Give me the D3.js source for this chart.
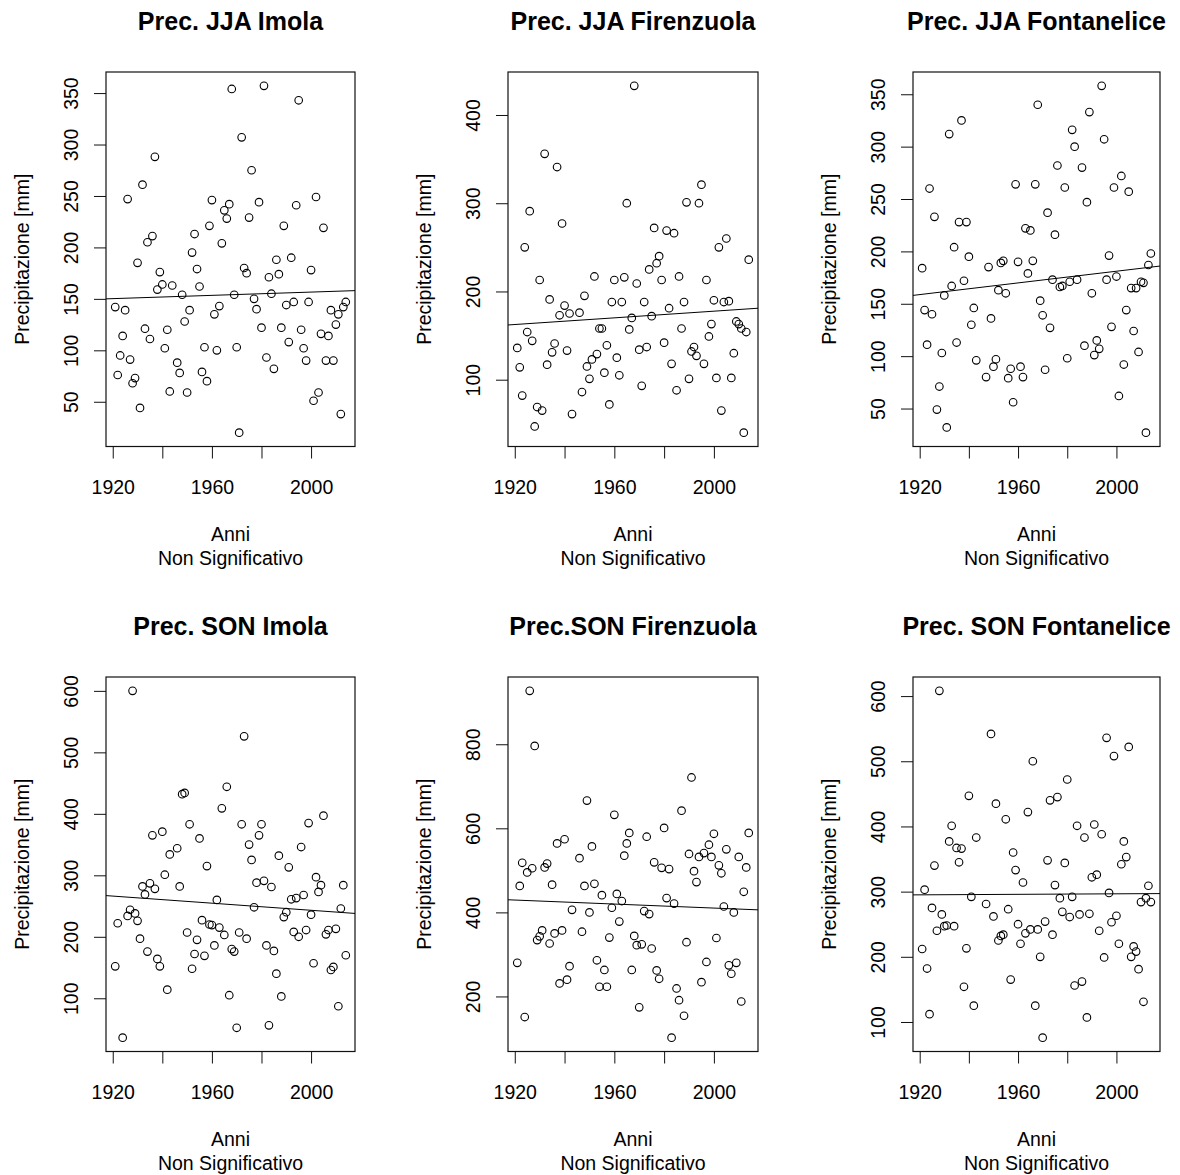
<!DOCTYPE html>
<html>
<head>
<meta charset="utf-8">
<script src="https://cdn.jsdelivr.net/npm/d3@7"></script>
<style>
  body { margin: 0; background: #fff; }
  text { font-family: "Liberation Sans", Arial, sans-serif; fill: #000; }
</style>
</head>
<body>
<script>
// JJA = summer (Jun-Jul-Aug), SON = autumn (Sep-Oct-Nov), precipitation in mm
const jjaImolaYears = [1921,1922,1923,1924,1925,1926,1927,1928,1929,1930,1931,1932,1933,1934,1935,1936,1937,1938,1939,1940,1941,1942,1943,1944,
  1946,1947,1948,1949,1950,1951,1952,1953,1954,1955,1956,1957,1958,1959,1960,1961,1962,1963,1964,1965,1966,1967,1968,1969,1970,1971,1972,1973,1974,1975,
  1976,1977,1978,1979,1980,1981,1982,1983,1984,1985,1986,1987,1988,1989,1990,1991,1992,1993,1994,1995,1996,1997,1998,1999,2000,2001,2002,2003,2004,2005,
  2006,2007,2008,2009,2010,2011,2012,2013,2014];
const jjaImolaPrec = [142,76,95,114,139,247,91,68,73,185,44,261,121,205,111,211,288,159,176,164,102,120,60,163,
  88,78,154,128,59,139,195,213,179,162,79,103,70,221,246,135,100,143,204,236,228,242,354,154,103,20,307,180,175,229,
  275,150,140,244,122,357,93,171,155,82,188,174,122,221,144,108,190,147,241,343,120,102,90,147,178,51,249,59,116,219,
  90,114,139,90,125,135,38,142,147];
const jjaImolaTrend = [150, 158];

const jjaFirenzuolaYears = [1921,1922,1923,1924,1925,1926,1927,1928,1929,1930,1931,1932,1933,1934,1935,1936,1937,1938,1939,1940,1941,1942,1943,
  1946,1947,1948,1949,1950,1951,1952,1953,1954,1955,1956,1957,1958,1959,1960,1961,1962,1963,1964,1965,1966,1967,1968,1969,1970,1971,1972,1973,1974,1975,
  1976,1977,1978,1979,1980,1981,1982,1983,1984,1985,1986,1987,1988,1989,1990,1991,1992,1993,1994,1995,1996,1997,1998,1999,2000,2001,2002,2003,2004,2005,
  2006,2007,2008,2009,2010,2011,2012,2013,2014];
const jjaFirenzuolaPrec = [136,114,82,250,154,291,144,47,69,213,65,356,117,191,131,141,341,173,277,184,133,175,61,
  176,86,195,115,101,123,217,129,158,158,108,139,72,188,213,125,105,188,216,300,157,170,433,209,134,93,188,137,225,172,
  272,232,240,213,142,269,181,118,266,88,217,158,188,301,101,132,137,127,300,321,118,213,149,163,190,102,250,65,188,260,
  189,102,130,166,163,158,40,154,236];
const jjaFirenzuolaTrend = [162, 181];

const jjaFontanYears = [1921,1922,1923,1924,1925,1926,1927,1928,1929,1930,1931,1932,1933,1934,1935,1936,1937,1938,1939,1940,1941,1942,1943,
  1947,1948,1949,1950,1951,1952,1953,1954,1955,1956,1957,1958,1959,1960,1961,1962,1963,1964,1965,1966,1967,1968,1969,1970,1971,1972,1973,1974,1975,
  1976,1977,1978,1979,1980,1981,1982,1983,1984,1986,1987,1988,1989,1990,1991,1992,1993,1994,1995,1996,1997,1998,1999,2000,2001,2002,2003,2004,2005,
  2006,2007,2008,2009,2010,2011,2012,2013,2014];
const jjaFontanPrec = [184,144,111,260,140,233,49,71,103,158,32,312,167,204,113,228,325,172,228,195,130,146,96,
  80,185,136,90,97,163,189,191,160,79,88,56,264,190,90,80,222,179,220,191,264,340,153,139,87,237,127,173,216,
  282,166,167,261,98,171,316,300,173,280,110,247,333,160,101,115,107,358,307,173,196,128,261,176,62,272,92,144,257,
  165,124,165,104,171,170,27,187,198];
const jjaFontanTrend = [158, 186];

const sonImolaYears = [1921,1922,1924,1926,1927,1928,1929,1930,1931,1932,1933,1934,1935,1936,1937,1938,1939,1940,1941,1942,1943,
  1946,1947,1948,1949,1950,1951,1952,1953,1954,1955,1956,1957,1958,1959,1960,1961,1962,1963,1964,1965,1966,1967,1968,1969,1970,1971,1972,1973,1974,1975,
  1976,1977,1978,1979,1980,1981,1982,1983,1984,1985,1986,1987,1988,1989,1990,1991,1992,1993,1994,1995,1996,1997,1998,1999,2000,2001,2002,2003,2004,2005,
  2006,2007,2008,2009,2010,2011,2012,2013,2014];
const sonImolaPrec = [152,222,36,234,244,600,238,226,197,282,269,176,287,365,278,164,152,371,301,114,334,
  344,282,432,434,207,383,148,172,195,360,227,169,315,220,219,186,260,215,409,203,444,105,180,176,52,207,383,526,197,350,
  325,248,288,365,383,291,186,56,281,177,140,332,103,232,240,313,261,208,263,200,346,268,211,385,236,157,297,273,284,397,
  204,211,146,151,213,87,246,284,170];
const sonImolaTrend = [267, 238];

const sonFirenzuolaYears = jjaFirenzuolaYears;
const sonFirenzuolaPrec = [280,463,518,151,495,927,505,796,334,343,357,507,516,326,466,350,564,231,357,574,240,272,406,
  529,354,463,666,400,557,468,286,223,441,263,223,340,411,632,444,378,427,535,564,589,263,344,322,174,324,403,580,396,314,
  519,262,242,506,601,434,503,102,421,219,191,642,154,329,539,721,498,472,532,234,541,282,561,532,587,339,512,493,414,550,
  274,254,400,280,532,188,449,507,589];
const sonFirenzuolaTrend = [430, 406];

const sonFontanYears = [1921,1922,1923,1924,1925,1926,1927,1928,1929,1930,1931,1932,1933,1934,1935,1936,1937,1938,1939,1940,1941,1942,1943,
  1947,1949,1950,1951,1952,1953,1954,1955,1956,1957,1958,1959,1960,1961,1962,1963,1964,1965,1966,1967,1968,1969,1970,1971,1972,1973,1974,1975,
  1976,1977,1978,1979,1980,1981,1982,1983,1984,1985,1986,1987,1988,1989,1990,1991,1992,1993,1994,1995,1996,1997,1998,1999,2000,2001,2002,2003,2004,2005,
  2006,2007,2008,2009,2010,2011,2012,2013,2014];
const sonFontanPrec = [212,303,182,112,275,340,240,608,265,247,248,377,401,247,367,345,366,154,213,447,292,125,383,
  281,542,262,435,225,232,234,411,273,165,360,333,250,220,314,236,422,242,500,125,242,200,76,254,348,440,234,310,
  445,290,269,344,472,261,292,156,401,265,162,383,107,266,322,403,326,240,388,199,536,298,253,508,263,220,342,377,353,522,
  200,216,208,181,284,131,290,309,284];
const sonFontanTrend = [295, 297];

const xTicks = [1920, 1940, 1960, 1980, 2000];
const xLabels = [1920, 1960, 2000];
const ticksJJA = [50, 100, 150, 200, 250, 300, 350];
const ticksJJAFir = [100, 200, 300, 400];
const ticksSON = [100, 200, 300, 400, 500, 600];
const ticksSONFir = [200, 400, 600, 800];

const panels = [
  {title: "Prec. JJA Imola", years: jjaImolaYears, values: jjaImolaPrec, trend: jjaImolaTrend, ticks: ticksJJA},
  {title: "Prec. JJA Firenzuola", years: jjaFirenzuolaYears, values: jjaFirenzuolaPrec, trend: jjaFirenzuolaTrend, ticks: ticksJJAFir},
  {title: "Prec. JJA Fontanelice", years: jjaFontanYears, values: jjaFontanPrec, trend: jjaFontanTrend, ticks: ticksJJA},
  {title: "Prec. SON Imola", years: sonImolaYears, values: sonImolaPrec, trend: sonImolaTrend, ticks: ticksSON},
  {title: "Prec.SON Firenzuola", years: sonFirenzuolaYears, values: sonFirenzuolaPrec, trend: sonFirenzuolaTrend, ticks: ticksSONFir},
  {title: "Prec. SON Fontanelice", years: sonFontanYears, values: sonFontanPrec, trend: sonFontanTrend, ticks: ticksSON}
];

const svg = d3.select("body").append("svg")
    .attr("width", 1180)
    .attr("height", 1175);
svg.append("rect").attr("width", 1180).attr("height", 1175).attr("fill", "#fff");

// plot boxes, like R's par(mfrow=c(2,3))
const colLeft = [106, 508, 913], colRight = [355, 758, 1160];
const rowTop = [72, 677], rowBottom = [446.5, 1051.5];
const fs = "19.5px";

// R pads the data range by 4% on each side
function padded(ext) {
    const d = (ext[1] - ext[0]) * 0.04;
    return [ext[0] - d, ext[1] + d];
}

function drawPanel(p, i) {
    const col = i % 3, row = Math.floor(i / 3);
    const left = colLeft[col], right = colRight[col];
    const top = rowTop[row], bottom = rowBottom[row];
    const cx = (left + right) / 2;

    const x = d3.scaleLinear().domain(padded(d3.extent(p.years))).range([left, right]);
    const y = d3.scaleLinear().domain(padded(d3.extent(p.values))).range([bottom, top]);
    const g = svg.append("g");

    g.append("text")
        .attr("x", cx).attr("y", top - 42)
        .attr("text-anchor", "middle")
        .style("font-size", "25px").style("font-weight", "bold")
        .text(p.title);

    // x axis
    const xa = g.append("g")
        .attr("transform", `translate(0,${bottom})`)
        .call(d3.axisBottom(x).tickValues(xTicks).tickSize(12).tickPadding(21.5)
            .tickFormat(d => xLabels.includes(d) ? d : ""));
    xa.select(".domain").remove();
    xa.attr("font-size", null).attr("font-family", null);
    xa.selectAll("text").style("font-size", fs).attr("fill", null);
    xa.selectAll("line").attr("stroke", "#111");

    // y axis, labels parallel to the axis
    const ya = g.append("g")
        .attr("transform", `translate(${left},0)`)
        .call(d3.axisLeft(y).tickValues(p.ticks).tickSize(12).tickFormat(d3.format("d")));
    ya.select(".domain").remove();
    ya.attr("font-size", null).attr("font-family", null);
    ya.selectAll("text")
        .style("font-size", fs).attr("fill", null)
        .attr("x", 0).attr("dy", 0)
        .attr("text-anchor", "middle")
        .attr("transform", "translate(-28,0) rotate(-90)");
    ya.selectAll("line").attr("stroke", "#111");

    // box
    g.append("rect")
        .attr("x", left).attr("y", top)
        .attr("width", right - left).attr("height", bottom - top)
        .attr("fill", "none").attr("stroke", "#111").attr("stroke-width", 1.2);

    // axis titles
    g.append("text")
        .attr("transform", `translate(${left - 77},${(top + bottom) / 2}) rotate(-90)`)
        .attr("text-anchor", "middle").style("font-size", fs)
        .text("Precipitazione [mm]");
    g.append("text")
        .attr("x", cx).attr("y", bottom + 94)
        .attr("text-anchor", "middle").style("font-size", fs)
        .text("Anni");
    g.append("text")
        .attr("x", cx).attr("y", bottom + 118)
        .attr("text-anchor", "middle").style("font-size", fs)
        .text("Non Significativo");

    // points
    g.selectAll("circle")
        .data(p.years)
        .join("circle")
        .attr("cx", d => x(d))
        .attr("cy", (d, j) => y(p.values[j]))
        .attr("r", 3.8)
        .attr("fill", "none")
        .attr("stroke", "#000")
        .attr("stroke-width", 1.1);

    // linear trend across the plot region
    const xd = x.domain();
    g.append("path")
        .datum([[xd[0], p.trend[0]], [xd[1], p.trend[1]]])
        .attr("d", d3.line().x(d => x(d[0])).y(d => y(d[1])))
        .attr("stroke", "#000")
        .attr("stroke-width", 1)
        .attr("fill", "none");
}

panels.forEach(drawPanel);
</script>
</body>
</html>
